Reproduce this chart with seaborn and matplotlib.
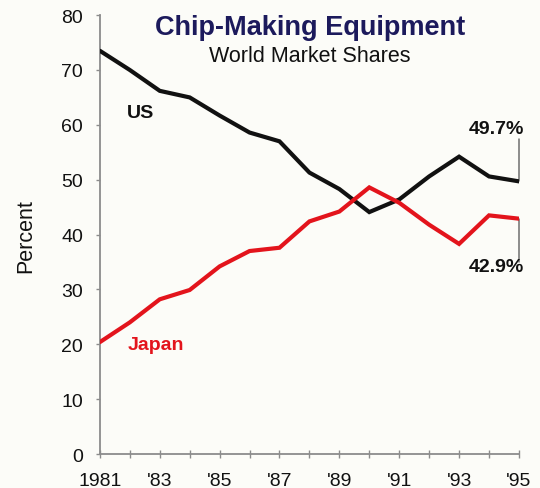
import matplotlib
matplotlib.use("Agg")
import matplotlib.pyplot as plt
import seaborn as sns
import pandas as pd

# World market shares of chip-making equipment, percent
years = list(range(1981, 1996))
us_share = [73.5, 70.0, 66.2, 65.0, 61.7, 58.6, 57.0, 51.3, 48.3, 44.1, 46.4, 50.6, 54.2, 50.6, 49.7]
japan_share = [20.4, 24.0, 28.2, 29.9, 34.2, 37.0, 37.6, 42.4, 44.2, 48.6, 45.8, 41.8, 38.3, 43.5, 42.9]

series_names = ["US", "Japan"]
series_colors = ["#111111", "#e3141c"]
tick_years = list(range(1981, 1996, 2))
tick_labels = ["1981", "'83", "'85", "'87", "'89", "'91", "'93", "'95"]
y_ticks = [0, 10, 20, 30, 40, 50, 60, 70, 80]

df = pd.DataFrame({
    "Year": years * 2,
    "Share": us_share + japan_share,
    "Country": ["US"] * len(years) + ["Japan"] * len(years),
})

sns.set_theme(style="ticks")
plt.rcParams["font.family"] = ["Liberation Sans", "DejaVu Sans"]

bg = "#fcfcf8"
fig = plt.figure(figsize=(5.4, 4.89), dpi=100, facecolor=bg)
ax = fig.add_axes([0.185, 0.0695, 0.776, 0.8975], facecolor=bg)

sns.lineplot(data=df, x="Year", y="Share", hue="Country",
             hue_order=series_names, palette=series_colors,
             linewidth=3.0, legend=False, ax=ax, zorder=3)
for line in ax.lines:
    line.set_solid_joinstyle("miter")

ax.set_xlim(1981, 1995)
ax.set_ylim(0, 80)

spine_color = "#8c8c8c"
for side in ["top", "right"]:
    ax.spines[side].set_visible(False)
for side in ["left", "bottom"]:
    ax.spines[side].set_color(spine_color)
    ax.spines[side].set_linewidth(1.3)

ax.set_yticks(y_ticks)
ax.tick_params(axis="y", direction="out", length=3, width=1, color=spine_color,
               labelsize=14, pad=9, labelcolor="#111111")
ax.set_xticks(years, minor=True)
ax.set_xticks(tick_years)
ax.set_xticklabels(tick_labels)
ax.tick_params(axis="x", which="both", direction="inout", length=6, width=1,
               color=spine_color)
ax.tick_params(axis="x", which="major", labelsize=14, pad=10, labelcolor="#111111")

ax.set_xlabel("")
ax.set_ylabel("Percent", fontsize=15.5, color="#111111")
ax.yaxis.set_label_coords(-0.152, 0.5)

# Series labels
ax.text(1982.35, 61.4, "US", fontsize=14, fontweight="bold", color="#111111",
        ha="center", va="baseline")
ax.text(1981.92, 19.1, "Japan", fontsize=14, fontweight="bold", color="#e3141c",
        ha="left", va="baseline")

# Leader lines and end values for 1995
leader = "#6e6e6e"
ax.plot([years[-1], years[-1]], [us_share[-1], 57.4], color=leader, lw=1.1,
        clip_on=False, zorder=2)
ax.plot([years[-1], years[-1]], [35.0, japan_share[-1]], color=leader, lw=1.1,
        clip_on=False, zorder=2)
ax.text(1994.25, 58.6, f"{us_share[-1]:.1f}%", fontsize=14, fontweight="bold",
        color="#111111", ha="center", va="baseline")
ax.text(1994.25, 33.4, f"{japan_share[-1]:.1f}%", fontsize=14, fontweight="bold",
        color="#111111", ha="center", va="baseline")

fig.text(0.574, 0.928, "Chip-Making Equipment", fontsize=19.5, fontweight="bold",
         color="#1c1a5c", ha="center", va="baseline")
fig.text(0.573, 0.873, "World Market Shares", fontsize=15.5, color="#111111",
         ha="center", va="baseline")

fig.savefig("out.png", dpi=100, facecolor=bg)
